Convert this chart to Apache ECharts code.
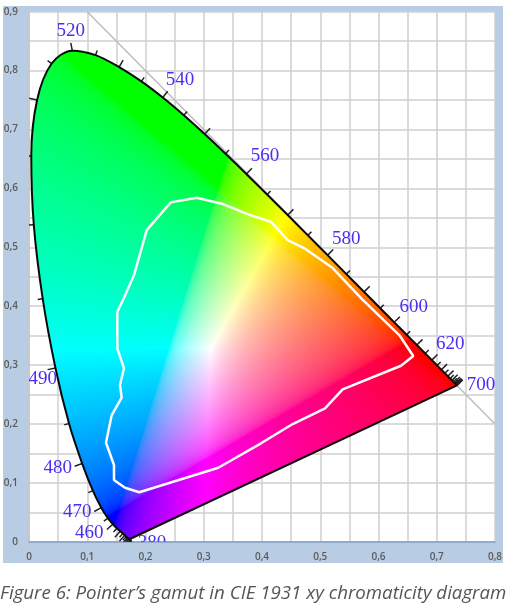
<!DOCTYPE html>
<html>
<head>
<meta charset="utf-8">
<style>
  html, body { margin: 0; padding: 0; background: #fff; }
  #chart { width: 522px; height: 612px; filter: blur(0.4px); }
</style>
<script src="https://cdn.jsdelivr.net/npm/echarts@6/dist/echarts.min.js"></script>
</head>
<body>
<div id="chart"></div>
<script>
// spectral locus, every 5 nm from 380 to 700
const locusStart = 380;
const locusX = [0.1741, 0.1740, 0.1738, 0.1736, 0.1733, 0.1730, 0.1726, 0.1721, 0.1714, 0.1703, 0.1689,
  0.1669, 0.1644, 0.1611, 0.1566, 0.1510, 0.1440, 0.1355, 0.1241, 0.1096, 0.0913, 0.0687, 0.0454, 0.0235,
  0.0082, 0.0039, 0.0139, 0.0389, 0.0743, 0.1142, 0.1547, 0.1929, 0.2296, 0.2658, 0.3016, 0.3373, 0.3731,
  0.4087, 0.4441, 0.4788, 0.5125, 0.5448, 0.5752, 0.6029, 0.6270, 0.6482, 0.6658, 0.6801, 0.6915, 0.7006,
  0.7079, 0.7140, 0.7190, 0.7230, 0.7260, 0.7283, 0.7300, 0.7311, 0.7320, 0.7327, 0.7334, 0.7340, 0.7344,
  0.7346, 0.7347];
const locusY = [0.0050, 0.0050, 0.0049, 0.0049, 0.0048, 0.0048, 0.0048, 0.0048, 0.0051, 0.0058, 0.0069,
  0.0086, 0.0109, 0.0138, 0.0177, 0.0227, 0.0297, 0.0399, 0.0578, 0.0868, 0.1327, 0.2007, 0.2950, 0.4127,
  0.5384, 0.6548, 0.7502, 0.8120, 0.8338, 0.8262, 0.8059, 0.7816, 0.7543, 0.7243, 0.6923, 0.6589, 0.6245,
  0.5896, 0.5547, 0.5202, 0.4866, 0.4544, 0.4242, 0.3965, 0.3725, 0.3514, 0.3340, 0.3197, 0.3083, 0.2993,
  0.2920, 0.2859, 0.2809, 0.2770, 0.2740, 0.2717, 0.2700, 0.2689, 0.2680, 0.2673, 0.2666, 0.2660, 0.2656,
  0.2654, 0.2653];

// Pointer's gamut outline
const pointerX = [0.1516, 0.1614, 0.1803, 0.2021, 0.2433, 0.2879, 0.3330, 0.3794, 0.4155, 0.4441, 0.4721,
  0.5214, 0.5717, 0.6357, 0.6597, 0.6386, 0.5385, 0.5082, 0.4527, 0.3983, 0.3250, 0.1894, 0.1648, 0.1459,
  0.1459, 0.1322, 0.1420, 0.1591, 0.1562, 0.1631, 0.1516, 0.1516];
const pointerY = [0.3905, 0.4104, 0.4528, 0.5292, 0.5762, 0.5840, 0.5733, 0.5547, 0.5433, 0.5122, 0.4986,
  0.4647, 0.4120, 0.3509, 0.3153, 0.2988, 0.2587, 0.2265, 0.1998, 0.1671, 0.1256, 0.0839, 0.0917, 0.1048,
  0.1302, 0.1681, 0.2151, 0.2445, 0.2660, 0.2944, 0.3283, 0.3905];

// x + y = 1 guide line
const diagonalX = [0.1, 0.8];
const diagonalY = [0.9, 0.2];

// wavelength labels
const waveNames = ['520', '540', '560', '580', '600', '620', '700', '490', '480', '470', '460', '380'];
const waveX = [0.0717, 0.2592, 0.4052, 0.5447, 0.6604, 0.7233, 0.7760, 0.0235, 0.0493, 0.0829, 0.1035, 0.2111];
const waveY = [0.8676, 0.7833, 0.6548, 0.5134, 0.3990, 0.3357, 0.2660, 0.2757, 0.1256, 0.0504, 0.0143, -0.0022];

// primaries and white of the colour field, as they look in the picture
const primaryX = [0.64, 0.325, 0.155];
const primaryY = [0.335, 0.60, 0.055];
const whiteXY = [0.3127, 0.329];
const FIELD_GAMMA = 2.3;

const GRID = { left: 29, top: 11.7, width: 466, height: 530 };
const X_MAX = 0.8, Y_MAX = 0.9;

function toPairs(xs, ys) {
  return xs.map((x, i) => [x, ys[i]]);
}

function inverse3(m) {
  const [a, b, c] = m[0], [d, e, f] = m[1], [g, h, i] = m[2];
  const A = e * i - f * h, B = f * g - d * i, C = d * h - e * g;
  const det = a * A + b * B + c * C;
  return [
    [A / det, (c * h - b * i) / det, (b * f - c * e) / det],
    [B / det, (a * i - c * g) / det, (c * d - a * f) / det],
    [C / det, (b * g - a * h) / det, (a * e - b * d) / det]
  ];
}

function buildXyzToRgb() {
  const P = [primaryX, primaryY, primaryX.map((x, i) => 1 - x - primaryY[i])];
  const Pi = inverse3(P);
  const w = [whiteXY[0], whiteXY[1], 1 - whiteXY[0] - whiteXY[1]];
  const s = Pi.map(r => (r[0] * w[0] + r[1] * w[1] + r[2] * w[2]));
  return Pi.map((r, i) => r.map(v => v / s[i]));
}

const xyzToRgb = buildXyzToRgb();

// xy -> rgb, negative channels clipped, brightest channel scaled to 1
function chromaColor(x, y) {
  const z = 1 - x - y;
  const c = xyzToRgb.map(r => Math.max(r[0] * x + r[1] * y + r[2] * z, 0));
  const m = Math.max(c[0], c[1], c[2]) || 1;
  return c.map(v => 255 * Math.pow(v / m, 1 / FIELD_GAMMA));
}

function buildFieldImage() {
  const w = GRID.width, h = GRID.height;
  const canvas = document.createElement('canvas');
  canvas.width = w;
  canvas.height = h;
  const ctx = canvas.getContext('2d');
  const img = ctx.createImageData(w, h);
  for (let j = 0; j < h; j++) {
    const y = Y_MAX * (1 - (j + 0.5) / h);
    for (let i = 0; i < w; i++) {
      const c = chromaColor(X_MAX * (i + 0.5) / w, y);
      const k = (j * w + i) * 4;
      img.data[k] = c[0];
      img.data[k + 1] = c[1];
      img.data[k + 2] = c[2];
      img.data[k + 3] = 255;
    }
  }
  ctx.putImageData(img, 0, 0);
  // keep only the inside of the locus
  const pts = locusX.map((x, i) => [x / X_MAX * w, (1 - locusY[i] / Y_MAX) * h]);
  ctx.globalCompositeOperation = 'destination-in';
  ctx.beginPath();
  ctx.moveTo(pts[0][0], pts[0][1]);
  for (let i = 0; i < pts.length - 1; i++) {
    const p0 = pts[Math.max(i - 1, 0)], p1 = pts[i], p2 = pts[i + 1], p3 = pts[Math.min(i + 2, pts.length - 1)];
    ctx.bezierCurveTo(p1[0] + (p2[0] - p0[0]) / 6, p1[1] + (p2[1] - p0[1]) / 6,
      p2[0] - (p3[0] - p1[0]) / 6, p2[1] - (p3[1] - p1[1]) / 6, p2[0], p2[1]);
  }
  ctx.closePath();
  ctx.fill();
  return canvas;
}

const fieldImage = buildFieldImage();
const chart = echarts.init(document.getElementById('chart'));

const axisLabel = {
  color: '#5a5a5a',
  fontFamily: 'Open Sans',
  fontSize: 10,
  fontWeight: 600,
  formatter: v => (v === 0 ? '0' : v.toFixed(1).replace('.', ','))
};

chart.setOption({
  animation: false,
  backgroundColor: '#fff',
  title: {
    text: 'Figure 6: Pointer’s gamut in CIE 1931 xy chromaticity diagram',
    left: 0,
    top: 584,
    padding: 0,
    textStyle: { color: '#555', fontFamily: 'Open Sans', fontStyle: 'italic', fontWeight: 'normal', fontSize: 18.7 }
  },
  graphic: [{
    type: 'rect',
    z: -10,
    shape: { x: 3, y: 6, width: 500, height: 557 },
    style: { fill: '#b8cce4' }
  }],
  grid: { ...GRID, show: true, backgroundColor: '#fff', borderWidth: 0 },
  xAxis: {
    type: 'value', min: 0, max: X_MAX, interval: 0.1,
    axisLine: { show: true, onZero: false, lineStyle: { color: '#7f9fc9', width: 1.5 } },
    axisTick: { show: false },
    axisLabel: { ...axisLabel, margin: 10 },
    splitLine: { show: true, lineStyle: { color: '#cfcfcf', width: 1.5 } },
    minorTick: { show: false, splitNumber: 2 },
    minorSplitLine: { show: true, lineStyle: { color: '#cfcfcf', width: 1.5 } }
  },
  yAxis: {
    type: 'value', min: 0, max: Y_MAX, interval: 0.1,
    axisLine: { show: true, onZero: false, lineStyle: { color: '#c4c4c4', width: 1.5 } },
    axisTick: { show: false },
    axisLabel: { ...axisLabel, margin: 11 },
    splitLine: { show: true, lineStyle: { color: '#cfcfcf', width: 1.5 } },
    minorTick: { show: false, splitNumber: 2 },
    minorSplitLine: { show: true, lineStyle: { color: '#cfcfcf', width: 1.5 } }
  },
  series: [
    {
      // x + y = 1
      type: 'line', z: 2, silent: true, showSymbol: false,
      data: toPairs(diagonalX, diagonalY),
      lineStyle: { color: '#bdbdbd', width: 1.5 }
    },
    {
      // colour field
      type: 'custom', z: 3, silent: true,
      data: [[0, Y_MAX]],
      renderItem(params, api) {
        const tl = api.coord([0, Y_MAX]), br = api.coord([X_MAX, 0]);
        return {
          type: 'image',
          style: { image: fieldImage, x: tl[0], y: tl[1], width: br[0] - tl[0], height: br[1] - tl[1] }
        };
      }
    },
    {
      // wavelength ticks, long ones every 10 nm
      type: 'custom', z: 4, silent: true, clip: true,
      data: locusX.map((x, i) => [x, locusY[i], locusStart + i * 5, i]),
      renderItem(params, api) {
        const i = api.value(3);
        const p = api.coord([locusX[i], locusY[i]]);
        const a = api.coord([locusX[Math.max(i - 1, 0)], locusY[Math.max(i - 1, 0)]]);
        const b = api.coord([locusX[Math.min(i + 1, locusX.length - 1)], locusY[Math.min(i + 1, locusX.length - 1)]]);
        const dx = b[0] - a[0], dy = b[1] - a[1];
        const d = Math.hypot(dx, dy) || 1;
        const len = api.value(2) % 10 === 0 ? 8 : 5;
        return {
          type: 'line',
          shape: { x1: p[0], y1: p[1], x2: p[0] + dy / d * len, y2: p[1] - dx / d * len },
          style: { stroke: '#222', lineWidth: 1.5 }
        };
      }
    },
    {
      // Pointer's gamut
      type: 'line', z: 5, silent: true, showSymbol: false,
      data: toPairs(pointerX, pointerY),
      lineStyle: { color: '#fdfdfd', width: 2.5 }
    },
    {
      // spectral locus
      type: 'line', z: 6, silent: true, showSymbol: false, smooth: 0.33,
      data: toPairs(locusX, locusY),
      lineStyle: { color: '#0a0a0a', width: 2 }
    },
    {
      // purple line
      type: 'line', z: 6, silent: true, showSymbol: false,
      data: [[locusX[0], locusY[0]], [locusX[locusX.length - 1], locusY[locusY.length - 1]]],
      lineStyle: { color: '#0a0a0a', width: 2 }
    },
    {
      // wavelength labels
      type: 'custom', z: 7, silent: true, clip: true,
      data: waveNames.map((n, i) => [waveX[i], waveY[i], i]),
      renderItem(params, api) {
        const p = api.coord([api.value(0), api.value(1)]);
        return {
          type: 'text',
          x: p[0],
          y: p[1],
          style: {
            text: waveNames[api.value(2)],
            fill: '#4b2df5',
            font: '19px "Liberation Serif"',
            align: 'center',
            verticalAlign: 'middle'
          }
        };
      }
    }
  ]
});
</script>
</body>
</html>
